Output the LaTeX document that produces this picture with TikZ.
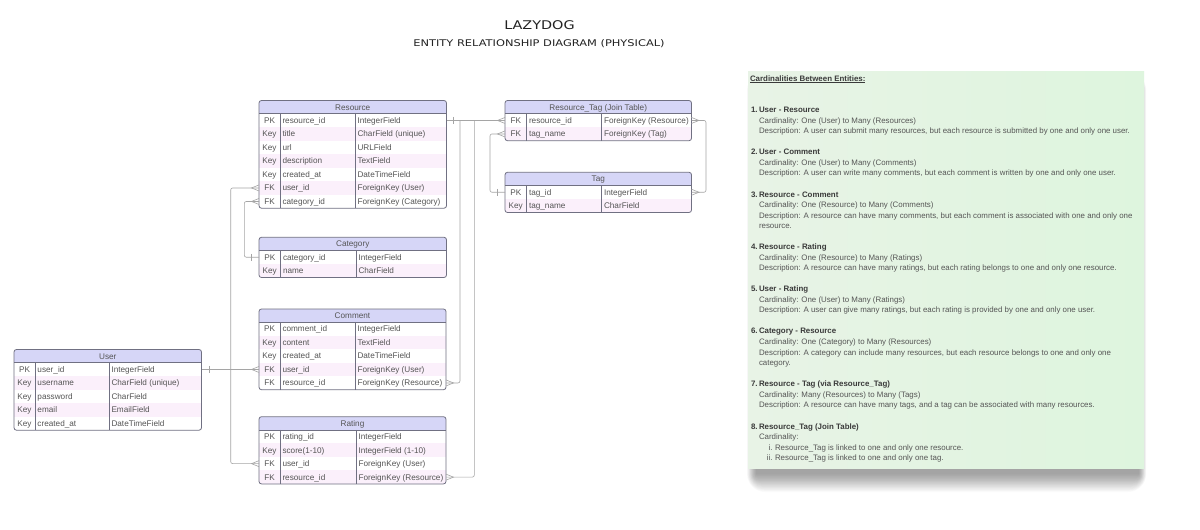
\documentclass[tikz,border=0pt]{standalone}
\usepackage{fontspec}
\usepackage{graphicx}
\setmainfont{Liberation Sans}
\newfontfamily\titlefont{DejaVu Sans}
\usetikzlibrary{calc}
\definecolor{hdrfill}{HTML}{D6D6F7}
\definecolor{pinkrow}{HTML}{FBF0FB}
\definecolor{tblline}{HTML}{707082}
\definecolor{txtgray}{HTML}{555555}
\definecolor{conngray}{HTML}{A5A5A5}
\definecolor{panelL}{HTML}{E8F3E6}
\definecolor{panelR}{HTML}{DEF5DE}
\definecolor{headdark}{HTML}{3A3A3A}
\definecolor{titledark}{HTML}{222222}
\def\hh{13.2}
\def\rh{13.5}
\tikzset{
  cell/.style={inner sep=0pt, outer sep=0pt, text height=5.9pt, text depth=0pt,
    font=\fontsize{8.2}{10}\selectfont, text=txtgray},
  rowbox/.style={inner sep=0pt, outer sep=0pt, draw=none},
  tbl/.style={draw=tblline, line width=0.8pt},
  tblin/.style={draw=tblline, line width=0.6pt},
  conn/.style={draw=conngray, line width=0.6pt},
  note/.style={inner sep=0pt, outer sep=0pt, text height=5.6pt, text depth=0pt,
    font=\fontsize{7.9}{9}\selectfont, text=txtgray},
  notebold/.style={note, font=\fontsize{7.9}{9}\selectfont\bfseries, text=headdark},
}
% id, title, x0, x1, x2, x3, ytop, nrows, rows
\newcommand{\ertable}[9]{%
  \pgfmathsetmacro\tw{#6-#3}%
  \pgfmathsetmacro\ybot{#7+\hh+#8*\rh}%
  \begin{scope}
    \clip[rounded corners=2.5pt] (#3,#7) rectangle (#6,\ybot);
    \node[rowbox, cell, fill=hdrfill, minimum width=\tw pt, minimum height=\hh pt,
      anchor=center] (#1-h) at ({(#3+#6)/2},{#7+\hh/2}) {#2};
    \foreach \ka/\na/\ta [count=\i] in {#9} {
      \pgfmathsetmacro\ytop{#7+\hh+(\i-1)*\rh}
      \pgfmathsetmacro\yc{\ytop+\rh/2}
      \ifodd\i \def\rf{white}\else\def\rf{pinkrow}\fi
      \node[rowbox, fill=\rf, minimum width=\tw pt, minimum height=\rh pt,
        anchor=north west] (#1-\i) at (#3,\ytop) {};
      \node[cell] (#1-\i-k) at ({(#3+#4)/2},\yc) {\ka};
      \node[cell, anchor=west] (#1-\i-n) at ({#4+2.5},\yc) {\na};
      \node[cell, anchor=west] (#1-\i-t) at ({#5+2.5},\yc) {\ta};
    }
  \end{scope}
  \draw[tblin] (#3,{#7+\hh}) -- (#6,{#7+\hh});
  \draw[tblin] (#4,{#7+\hh}) -- (#4,\ybot);
  \draw[tblin] (#5,{#7+\hh}) -- (#5,\ybot);
  \draw[tbl, rounded corners=2.5pt] (#3,#7) rectangle (#6,\ybot);
}
\newcommand{\crowL}[1]{\draw[conn] ($(#1)+(0,-3)$) -- ($(#1)+(-7.5,0)$) -- ($(#1)+(0,3)$);}
\newcommand{\crowR}[1]{\draw[conn] ($(#1)+(0,-3)$) -- ($(#1)+(7.5,0)$) -- ($(#1)+(0,3)$);}
\newcommand{\onetick}[2]{\draw[conn] ($(#1)+(#2,-3.5)$) -- ($(#1)+(#2,3.5)$);}
\newcommand{\notehead}[4]{%
  \node[notebold, anchor=east] (#1n) at (757.6,#2) {#3};
  \node[notebold, anchor=west] (#1) at (759,#2) {#4};}
\newcommand{\noteline}[3]{\node[note, anchor=west] (#1) at (759,#2) {#3};}
\newcommand{\noteroman}[4]{%
  \node[note, anchor=east] (#1n) at (772.5,#2) {#3};
  \node[note, anchor=west] (#1) at (775,#2) {#4};}

\begin{document}
\begin{tikzpicture}[x=1pt, y=-1pt]
\useasboundingbox (0,0) rectangle (1200,530);
\fill[white] (0,0) rectangle (1200,530);

% titles
\node[inner sep=0pt, text=titledark] (title) at (539.5,25)
  {\titlefont\fontsize{12}{13}\selectfont\scalebox{1.2}[1]{LAZYDOG}};
\node[inner sep=0pt, text=titledark] (subtitle) at (539,44)
  {\titlefont\fontsize{9.2}{11}\selectfont\scalebox{1.24}[1]{ENTITY RELATIONSHIP DIAGRAM (PHYSICAL)}};

% junction coordinates
\coordinate (jU) at (230.7,0);
\coordinate (jC) at (244.3,0);
\coordinate (jCm) at (460,0);
\coordinate (jRt) at (474.3,0);
\coordinate (jT) at (490,0);
\coordinate (jR) at (706,0);

% tables
\ertable{res}{Resource}{259}{280}{355}{446.5}{100.5}{7}{PK/resource\_id/IntegerField, Key/title/CharField (unique), Key/url/URLField, Key/description/TextField, Key/created\_at/DateTimeField, FK/user\_id/ForeignKey (User), FK/category\_id/ForeignKey (Category)}
\ertable{rt}{Resource\_Tag (Join Table)}{505}{526.5}{601.5}{691.5}{100.5}{2}{FK/resource\_id/ForeignKey (Resource), FK/tag\_name/ForeignKey (Tag)}
\ertable{tag}{Tag}{505}{526.5}{601.5}{691.5}{172.3}{2}{PK/tag\_id/IntegerField, Key/tag\_name/CharField}
\ertable{cat}{Category}{259}{280.5}{356}{446.5}{237.3}{2}{PK/category\_id/IntegerField, Key/name/CharField}
\ertable{com}{Comment}{259}{280}{355}{446}{309}{5}{PK/comment\_id/IntegerField, Key/content/TextField, Key/created\_at/DateTimeField, FK/user\_id/ForeignKey (User), FK/resource\_id/ForeignKey (Resource)}
\ertable{usr}{User}{14}{35}{109}{201.5}{349.5}{5}{PK/user\_id/IntegerField, Key/username/CharField (unique), Key/password/CharField, Key/email/EmailField, Key/created\_at/DateTimeField}
\ertable{rat}{Rating}{259}{280}{356}{446}{416.7}{4}{PK/rating\_id/IntegerField, Key/score(1-10)/IntegerField (1-10), FK/user\_id/ForeignKey (User), FK/resource\_id/ForeignKey (Resource)}

% connectors: User
\draw[conn] (usr-1.east) -- (com-4.west);
\onetick{usr-1.east}{7.5}
\crowL{com-4.west}
\draw[conn, rounded corners=2pt] (res-6.west) -| (jU |- rat-3.west) -- (rat-3.west);
\crowL{res-6.west}
\crowL{rat-3.west}
% Category
\draw[conn, rounded corners=2pt] (cat-1.west) -| (jC |- res-7.west) -- (res-7.west);
\onetick{cat-1.west}{-7.5}
\crowL{res-7.west}
% Resource PK
\draw[conn] (res-1.east) -- (rt-1.west);
\onetick{res-1.east}{7}
\crowL{rt-1.west}
\draw[conn, rounded corners=2pt] (jCm |- res-1.east) |- (com-5.east);
\crowR{com-5.east}
\draw[conn, rounded corners=2pt] (jRt |- res-1.east) |- (rat-4.east);
\crowR{rat-4.east}
% Resource_Tag - Tag
\draw[conn, rounded corners=2pt] (rt-2.west) -| (jT |- tag-1.west) -- (tag-1.west);
\crowL{rt-2.west}
\onetick{tag-1.west}{-8}
\draw[conn, rounded corners=2pt] (rt-1.east) -| (jR |- tag-1.east) -- (tag-1.east);
\crowR{rt-1.east}
\crowR{tag-1.east}

% notes panel soft shadow
\foreach \r in {0,0.75,...,18} {
  \fill[black, opacity=0.014, rounded corners=\r pt] ({756-\r*0.5},{90-\r}) rectangle ({1139+\r*0.4},{474+\r});
}
\shade[left color=panelL, right color=panelR] (748,71) rectangle (1144,468);

% notes text
\node[notebold, anchor=west] (ntitle) at (750,78.3) {\underline{Cardinalities Between Entities:}};
\notehead{h1}{110}{1.}{User - Resource}
\noteline{c1}{120.7}{Cardinality: One (User) to Many (Resources)}
\noteline{d1}{131}{Description: A user can submit many resources, but each resource is submitted by one and only one user.}
\notehead{h2}{151.7}{2.}{User - Comment}
\noteline{c2}{162.2}{Cardinality: One (User) to Many (Comments)}
\noteline{d2}{172.7}{Description: A user can write many comments, but each comment is written by one and only one user.}
\notehead{h3}{194.3}{3.}{Resource - Comment}
\noteline{c3}{204.8}{Cardinality: One (Resource) to Many (Comments)}
\noteline{d3}{215.3}{Description: A resource can have many comments, but each comment is associated with one and only one}
\noteline{d3b}{225.8}{resource.}
\notehead{h4}{246.8}{4.}{Resource - Rating}
\noteline{c4}{257.3}{Cardinality: One (Resource) to Many (Ratings)}
\noteline{d4}{267.9}{Description: A resource can have many ratings, but each rating belongs to one and only one resource.}
\notehead{h5}{289}{5.}{User - Rating}
\noteline{c5}{299.5}{Cardinality: One (User) to Many (Ratings)}
\noteline{d5}{310}{Description: A user can give many ratings, but each rating is provided by one and only one user.}
\notehead{h6}{331}{6.}{Category - Resource}
\noteline{c6}{341.7}{Cardinality: One (Category) to Many (Resources)}
\noteline{d6}{352.4}{Description: A category can include many resources, but each resource belongs to one and only one}
\noteline{d6b}{363}{category.}
\notehead{h7}{384}{7.}{Resource - Tag (via Resource\_Tag)}
\noteline{c7}{394.5}{Cardinality: Many (Resources) to Many (Tags)}
\noteline{d7}{405}{Description: A resource can have many tags, and a tag can be associated with many resources.}
\notehead{h8}{426.3}{8.}{Resource\_Tag (Join Table)}
\noteline{c8}{436.8}{Cardinality:}
\noteroman{r1}{447.3}{i.}{Resource\_Tag is linked to one and only one resource.}
\noteroman{r2}{457.7}{ii.}{Resource\_Tag is linked to one and only one tag.}
\end{tikzpicture}
\end{document}
